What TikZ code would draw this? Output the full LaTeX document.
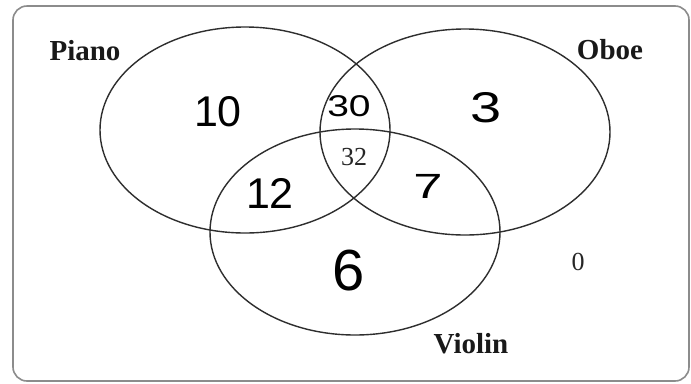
\documentclass[tikz,border=0pt]{standalone}
\usepackage{fontspec}
\setmainfont{Liberation Serif}
\newfontfamily\handfont{Liberation Sans}
\usetikzlibrary{shapes.geometric}
\tikzset{
  setring/.style={ellipse, draw=black!82, line width=1.4bp, inner sep=0pt,
    minimum width=290bp, minimum height=206bp},
  setlabel/.style={inner sep=0pt, font=\bfseries\fontsize{29bp}{29bp}\selectfont, text=black!90},
  printnum/.style={inner sep=0pt, font=\fontsize{26bp}{26bp}\selectfont, text=black!85},
  handnum/.style={inner sep=0pt, font=\handfont\fontsize{#1}{#1}\selectfont},
}
\begin{document}
\begin{tikzpicture}[x=1bp,y=-1bp]
\useasboundingbox (0,0) rectangle (691,383);
\fill[white] (0,0) rectangle (691,383);
\draw[black!45, line width=1.6bp, rounded corners=14bp] (13,6) rectangle (689,381);
\node[setring] (piano) at (245,130) {};
\node[setring] (oboe) at (465,132) {};
\node[setring] (violin) at (355,232) {};
\node[setlabel] (lpiano) at (85,51) {Piano};
\node[setlabel] (loboe) at (610,50) {Oboe};
\node[setlabel] (lviolin) at (471,344) {Violin};
\node[handnum=43bp] (n10) at (218,112) {10};
\node[handnum=30bp, xscale=1.3] (n30) at (349,106) {30};
\node[handnum=43bp, xscale=1.3] (n3) at (486,108) {3};
\node[handnum=43bp] (n12) at (270,193) {12};
\node[handnum=35bp, xscale=1.5] (n7) at (428,186) {7};
\node[handnum=58bp] (n6) at (349,271) {6};
\node[printnum] (n32) at (354,157) {32};
\node[printnum] (n0) at (578,262) {0};
\end{tikzpicture}
\end{document}
